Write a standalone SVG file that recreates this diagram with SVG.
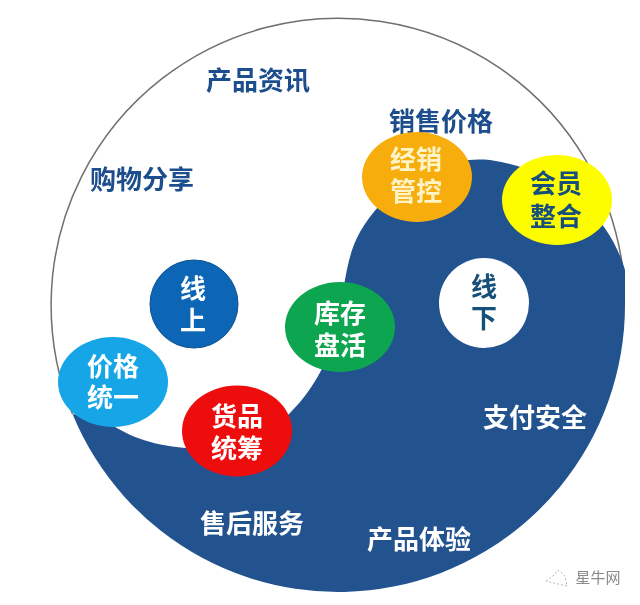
<svg xmlns="http://www.w3.org/2000/svg" width="640" height="605" viewBox="0 0 640 605">
<style>
text{font-family:"Noto Sans CJK SC","Liberation Sans",sans-serif;font-weight:700;text-anchor:middle}
.lab{font-size:26px;fill:#1f4e8c}
.wl{font-size:26px;fill:#fff}
.n{font-size:26px;fill:#fff}
.d{font-size:26px;fill:#17507a}
</style>
<defs><filter id="soft" x="-5%" y="-5%" width="110%" height="110%"><feGaussianBlur stdDeviation="0.5"/></filter></defs>
<rect width="640" height="605" fill="#fff"/>
<g filter="url(#soft)">
<g id="disc">
<path d="M72.500 414A287 287 0 1 1 623 270.500" fill="none" stroke="#6f6f6f" stroke-width="1.500"/>
<path d="M72.500 414A287 287 0 0 0 625 305L625 270C612 225 570 172 490 160C430 155 385 190 360 232C345 258 345 290 335 335C325 372 305 398 290 413C262 442 225 452 185 448C150 445 125 435 105 420Z" fill="#22528f"/>
</g>
<g id="label-chanpinzixun"><text class="lab" x="258" y="90">产品资讯</text></g>
<g id="label-xiaoshoujiage"><text class="lab" x="441" y="131">销售价格</text></g>
<g id="label-gouwufenxiang"><text class="lab" x="142" y="189">购物分享</text></g>
<g id="label-zhifuanquan"><text class="wl" x="535" y="427">支付安全</text></g>
<g id="label-shouhoufuwu"><text class="wl" x="252" y="533">售后服务</text></g>
<g id="label-chanpintiyan"><text class="wl" x="419" y="549">产品体验</text></g>
<g id="node-jingxiao"><ellipse cx="417" cy="177" rx="55" ry="45" fill="#f7ae0c"/><text class="n" x="416" y="169" style="fill:#fff3c8">经销</text><text class="n" x="416" y="201" style="fill:#fff3c8">管控</text></g>
<g id="node-huiyuan"><ellipse cx="557" cy="200" rx="55" ry="45" fill="#fdfd04"/><text class="d" x="556" y="193">会员</text><text class="d" x="556" y="226">整合</text></g>
<g id="node-xianxia"><circle cx="484" cy="303" r="45" fill="#fff"/><text class="d" x="484" y="296">线</text><text class="d" x="484" y="328">下</text></g>
<g id="node-kucun"><ellipse cx="340" cy="327" rx="55" ry="45" fill="#0fa550"/><text class="n" x="340" y="323">库存</text><text class="n" x="340" y="355">盘活</text></g>
<g id="node-xianshang"><circle cx="194" cy="304" r="44" fill="#0a65b5" stroke="#0d4f8c" stroke-width="1"/><text class="n" x="193" y="298">线</text><text class="n" x="193" y="330">上</text></g>
<g id="node-jiage"><ellipse cx="113" cy="382" rx="55" ry="45" fill="#14a5e6"/><text class="n" x="113" y="376">价格</text><text class="n" x="113" y="407">统一</text></g>
<g id="node-huopin"><ellipse cx="237" cy="431" rx="55" ry="45.500" fill="#ee0d0d"/><text class="n" x="237" y="426">货品</text><text class="n" x="237" y="458">统筹</text></g>
<g id="watermark"><path d="M546 581L553 576L558 570L565 576L567 586L558 584Z" fill="none" stroke="#b5b5b5" stroke-width="1" stroke-dasharray="2 2"/><text x="598" y="583" style="font-size:15px;font-weight:400;fill:#8a8a8a">星牛网</text></g>
</g>
</svg>
